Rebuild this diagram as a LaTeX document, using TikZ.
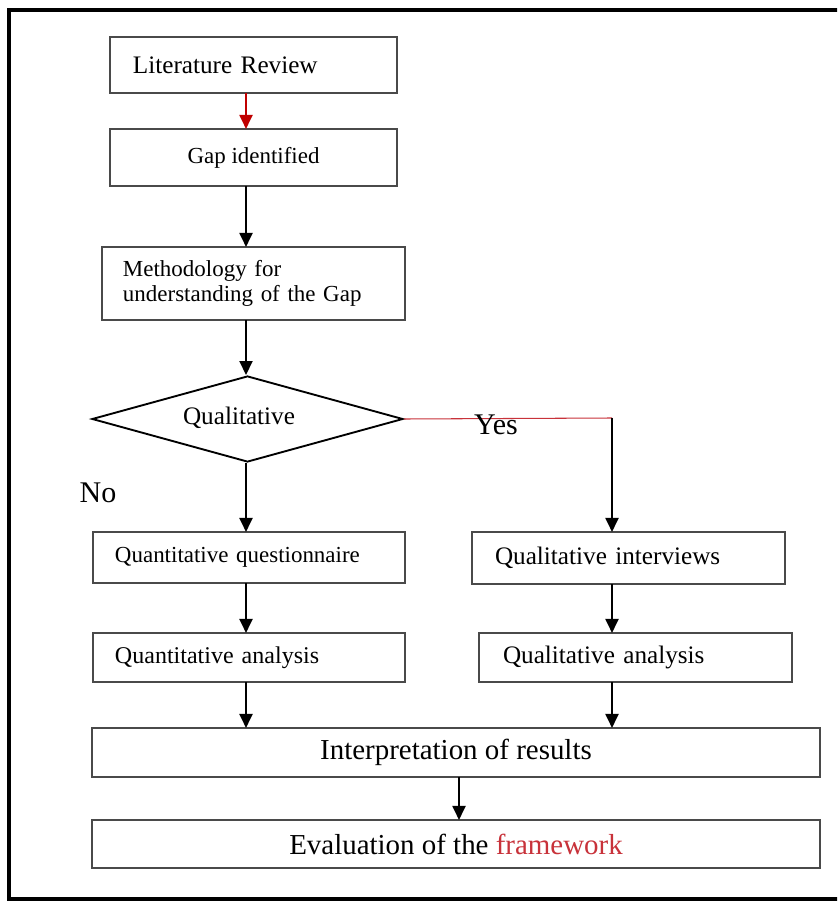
\documentclass[tikz,border=0pt]{standalone}
\usepackage{fontspec}
\setmainfont{Liberation Serif}
\usetikzlibrary{arrows.meta,shapes.geometric}
\definecolor{boxline}{HTML}{4A4A4A}
\definecolor{darkred}{HTML}{C00000}
\definecolor{wordred}{HTML}{C8323A}
\tikzset{
  box/.style={draw=boxline, line width=1.6pt, rectangle, inner ysep=0pt, outer sep=0pt},
  leftbox/.style={box, align=left},
  arr/.style={-{Triangle[width=11pt,length=12pt]}, line width=2pt, black},
  redarr/.style={-{Triangle[width=11pt,length=12pt]}, line width=2pt, darkred},
  frame/.style={draw=black, line width=3.6pt},
  lbl/.style={inner sep=0pt, font=\fontsize{25.6}{28}\selectfont}
}
\begin{document}
\begin{tikzpicture}[x=0.03cm, y=-0.03cm]
\useasboundingbox (0,0) rectangle (837,905);
\clip (0,0) rectangle (837,905);
\fill[white] (0,0) rectangle (837,905);
\draw[frame] (9,10) rectangle (860,899);

% arrow columns
\coordinate (cl) at (246,0);
\coordinate (cr) at (612,0);
\coordinate (cm) at (459,0);

% boxes
\node[leftbox, minimum width=8.61cm, minimum height=1.68cm, inner xsep=0.69cm, text width=7.23cm,
      font=\fontsize{21.5}{24}\selectfont] (lit) at (253.5,65) {Literature Review};
\node[box, minimum width=8.61cm, minimum height=1.71cm,
      font=\fontsize{19.6}{22}\selectfont] (gap) at (253.5,157.5) {Gap identified};
\node[leftbox, minimum width=9.09cm, minimum height=2.19cm, inner xsep=0.63cm, text width=7.83cm,
      font=\fontsize{19.6}{21.3}\selectfont] (meth) at (253.5,283.5) {Methodology for\\understanding of the Gap};
\node[draw=black, line width=1.6pt, diamond, aspect=3.6, inner sep=0pt, minimum width=9.33cm, minimum height=2.58cm] (dia) at (247.5,419) {};
\node[inner sep=0pt, font=\fontsize{21.5}{24}\selectfont] (dialbl) at (239,418) {Qualitative};
\node[leftbox, minimum width=9.36cm, minimum height=1.53cm, inner xsep=0.66cm, text width=8.04cm,
      font=\fontsize{19.6}{22}\selectfont] (quantq) at (249,557.5) {Quantitative questionnaire};
\node[leftbox, minimum width=9.39cm, minimum height=1.56cm, inner xsep=0.69cm, text width=8.01cm,
      font=\fontsize{21.5}{24}\selectfont] (qualint) at (628.5,558) {Qualitative interviews};
\node[leftbox, minimum width=9.36cm, minimum height=1.47cm, inner xsep=0.66cm, text width=8.04cm,
      font=\fontsize{20.5}{23}\selectfont] (quanta) at (249,657.5) {Quantitative analysis};
\node[leftbox, minimum width=9.39cm, minimum height=1.47cm, inner xsep=0.72cm, text width=7.95cm,
      font=\fontsize{21.5}{24}\selectfont] (quala) at (635.5,657.5) {Qualitative analysis};
\node[box, minimum width=21.84cm, minimum height=1.47cm,
      font=\fontsize{24.7}{27}\selectfont] (interp) at (456,752.5) {Interpretation of results};
\node[box, minimum width=21.84cm, minimum height=1.44cm,
      font=\fontsize{24.7}{27}\selectfont] (eval) at (456,844) {Evaluation of the \textcolor{wordred}{framework}};

% connectors
\draw[redarr] (lit.south -| cl) -- (gap.north -| cl);
\draw[arr] (gap.south -| cl) -- (meth.north -| cl);
\draw[arr] (meth.south -| cl) -- (dia.north -| cl);
\draw[arr] (dia.south -| cl) -- (quantq.north -| cl);
\coordinate (turn) at (612,418);
\draw[wordred, line width=0.9pt] (dia.east) -- (turn);
\draw[arr] (turn) -- (qualint.north -| cr);
\draw[arr] (quantq.south -| cl) -- (quanta.north -| cl);
\draw[arr] (quanta.south -| cl) -- (interp.north -| cl);
\draw[arr] (qualint.south -| cr) -- (quala.north -| cr);
\draw[arr] (quala.south -| cr) -- (interp.north -| cr);
\draw[arr] (interp.south -| cm) -- (eval.north -| cm);

% branch labels
\node[lbl] (yes) at (496,425) {Yes};
\node[lbl] (no) at (98,493) {No};
\end{tikzpicture}
\end{document}
